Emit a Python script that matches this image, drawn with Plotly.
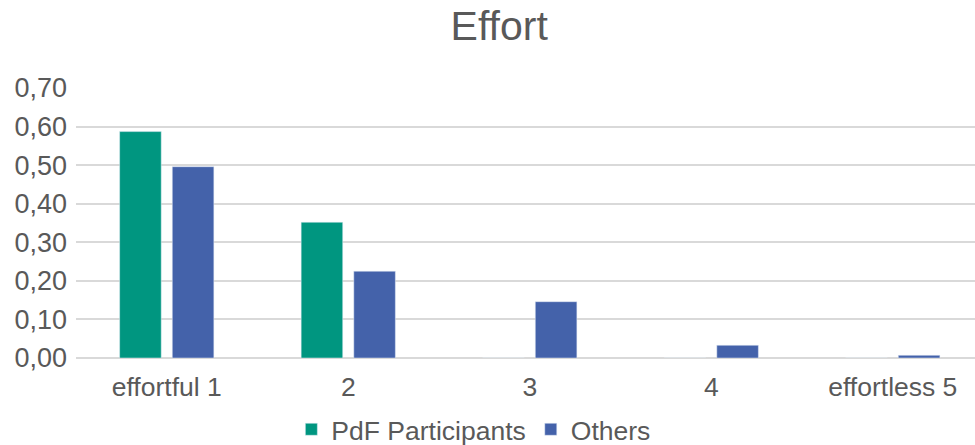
import plotly.graph_objects as go

categories = ["effortful 1", "2", "3", "4", "effortless 5"]
pdf_participants = [0.587, 0.352, 0.0, 0.0, 0.0]
others = [0.496, 0.225, 0.146, 0.033, 0.007]
series_names = ["PdF Participants", "Others"]
colors = ["#009680", "#4462AA"]

fig = go.Figure()
fig.add_trace(go.Bar(x=categories, y=pdf_participants, name=series_names[0],
                     marker=dict(color=colors[0])))
fig.add_trace(go.Bar(x=categories, y=others, name=series_names[1],
                     marker=dict(color=colors[1])))

font_family = "Liberation Sans, Arial, sans-serif"
txt = "#595959"
fig.update_layout(
    width=975, height=445,
    paper_bgcolor="white", plot_bgcolor="white",
    separators=",.",
    barmode="group", bargap=0.42, bargroupgap=0.21,
    margin=dict(l=76, r=0, t=88, b=87, autoexpand=False),
    title=dict(text="Effort", x=0.512, xanchor="center", y=0.943, yanchor="middle",
               font=dict(family=font_family, size=41, color=txt)),
    font=dict(family=font_family, size=27, color=txt),
    xaxis=dict(range=[-0.5, 4.453], showgrid=False, showline=False, ticks="",
               automargin=False, ticklabelstandoff=10,
               tickfont=dict(size=26.5, color=txt)),
    yaxis=dict(range=[0, 0.7], dtick=0.1, tickformat=".2f", showgrid=True,
               gridcolor="#D9D9D9", gridwidth=1.5, zeroline=True,
               zerolinecolor="#D9D9D9", zerolinewidth=1.5, showline=False,
               automargin=False, ticks="", ticklen=0, ticklabelstandoff=8,
               tickfont=dict(size=27, color=txt)),
    legend=dict(orientation="h", x=0.442, xanchor="center", y=-0.265, yanchor="middle",
                font=dict(size=26.5, color=txt), itemwidth=30),
    showlegend=True,
)

fig.write_html("out.html",
               config={"displayModeBar": False},
               post_script="document.body.style.margin='0';document.body.style.overflow='hidden';")
